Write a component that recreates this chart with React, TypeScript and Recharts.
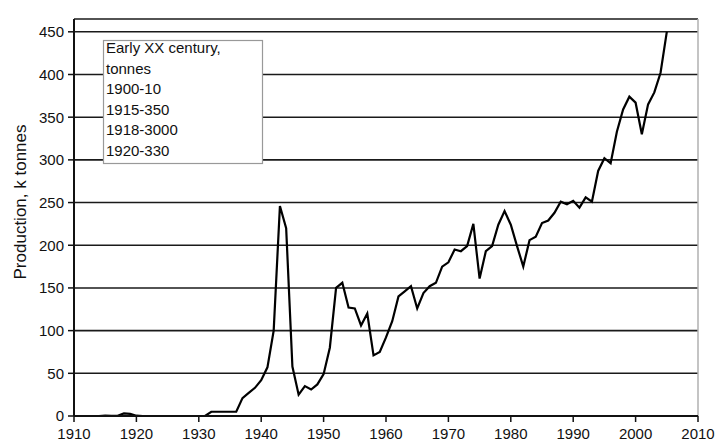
import React from 'react';
import { LineChart, Line, XAxis, YAxis, CartesianGrid, ReferenceLine } from 'recharts';

const years = [
  1910, 1911, 1912, 1913, 1914, 1915, 1916, 1917, 1918, 1919,
  1920, 1921, 1922, 1923, 1924, 1925, 1926, 1927, 1928, 1929,
  1930, 1931, 1932, 1933, 1934, 1935, 1936, 1937, 1938, 1939,
  1940, 1941, 1942, 1943, 1944, 1945, 1946, 1947, 1948, 1949,
  1950, 1951, 1952, 1953, 1954, 1955, 1956, 1957, 1958, 1959,
  1960, 1961, 1962, 1963, 1964, 1965, 1966, 1967, 1968, 1969,
  1970, 1971, 1972, 1973, 1974, 1975, 1976, 1977, 1978, 1979,
  1980, 1981, 1982, 1983, 1984, 1985, 1986, 1987, 1988, 1989,
  1990, 1991, 1992, 1993, 1994, 1995, 1996, 1997, 1998, 1999,
  2000, 2001, 2002, 2003, 2004, 2005,
];

const production = [
  0, 0, 0, 0, 0, 0.35, 0.2, 0.3, 3, 2.5,
  0.33, 0, 0, 0, 0, 0, 0, 0, 0, 0,
  0, 0, 5, 5, 5, 5, 5, 21, 27, 33,
  42, 57, 100, 246, 220, 58, 25, 35, 31, 37,
  49, 80, 150, 156, 127, 126, 106, 120, 71, 75,
  92, 111, 140, 146, 152, 126, 144, 152, 156, 175,
  180, 195, 193, 199, 225, 161, 193, 199, 224, 240,
  224, 199, 175, 206, 210, 226, 229, 238, 251, 248,
  252, 244, 256, 251, 287, 302, 296, 333, 359, 374,
  367, 330, 365, 379, 402, 450,
];

const xTicks = [1910, 1920, 1930, 1940, 1950, 1960, 1970, 1980, 1990, 2000, 2010];
const yTicks = [0, 50, 100, 150, 200, 250, 300, 350, 400, 450];

const noteLines = [
  'Early XX century,',
  'tonnes',
  '1900-10',
  '1915-350',
  '1918-3000',
  '1920-330',
];

const yLabel = 'Production, k tonnes';

const data = years.map((y, i) => ({ year: y, value: production[i] }));

const FONT = '"Liberation Sans", Arial, Helvetica, sans-serif';

export default function App() {
  return (
    <div style={{ position: 'absolute', left: 0, top: 0, width: 722, height: 445, background: '#fff' }}>
      <LineChart
        width={722}
        height={445}
        data={data}
        margin={{ top: 19, right: 24, bottom: 0, left: 0 }}
      >
        <CartesianGrid
          vertical={false}
          stroke="#1a1a1a"
          strokeWidth={1.6}
        />
        <XAxis
          dataKey="year"
          type="number"
          domain={[1910, 2010]}
          ticks={xTicks}
          height={29}
          tickSize={6}
          tickMargin={6}
          axisLine={{ stroke: '#111', strokeWidth: 2 }}
          tickLine={{ stroke: '#111', strokeWidth: 1.5 }}
          tick={{ fill: '#111', fontSize: 15, fontFamily: FONT }}
          interval={0}
        />
        <YAxis
          type="number"
          domain={[0, 465]}
          ticks={yTicks}
          width={74}
          tickSize={6}
          tickMargin={4}
          axisLine={{ stroke: '#111', strokeWidth: 2 }}
          tickLine={{ stroke: '#111', strokeWidth: 1.5 }}
          tick={{ fill: '#111', fontSize: 15, fontFamily: FONT }}
          interval={0}
        />
        <ReferenceLine x={2010} stroke="#b0b0b0" strokeWidth={1.5} />
        <Line
          type="linear"
          dataKey="value"
          stroke="#000"
          strokeWidth={2.2}
          dot={false}
          isAnimationActive={false}
        />
      </LineChart>
      <svg
        width={722}
        height={445}
        style={{ position: 'absolute', left: 0, top: 0, pointerEvents: 'none' }}
      >
        <text
          x={26}
          y={202}
          transform="rotate(-90 26 202)"
          textAnchor="middle"
          fontFamily={FONT}
          fontSize={17}
          fill="#111"
        >
          {yLabel}
        </text>
        <rect x={103.5} y={40.5} width={159} height={123} fill="#fff" stroke="#999" strokeWidth={1.2} />
        {noteLines.map((t, i) => (
          <text key={i} x={106} y={53 + i * 20.6} fontFamily={FONT} fontSize={15} fill="#111">
            {t}
          </text>
        ))}
      </svg>
    </div>
  );
}
